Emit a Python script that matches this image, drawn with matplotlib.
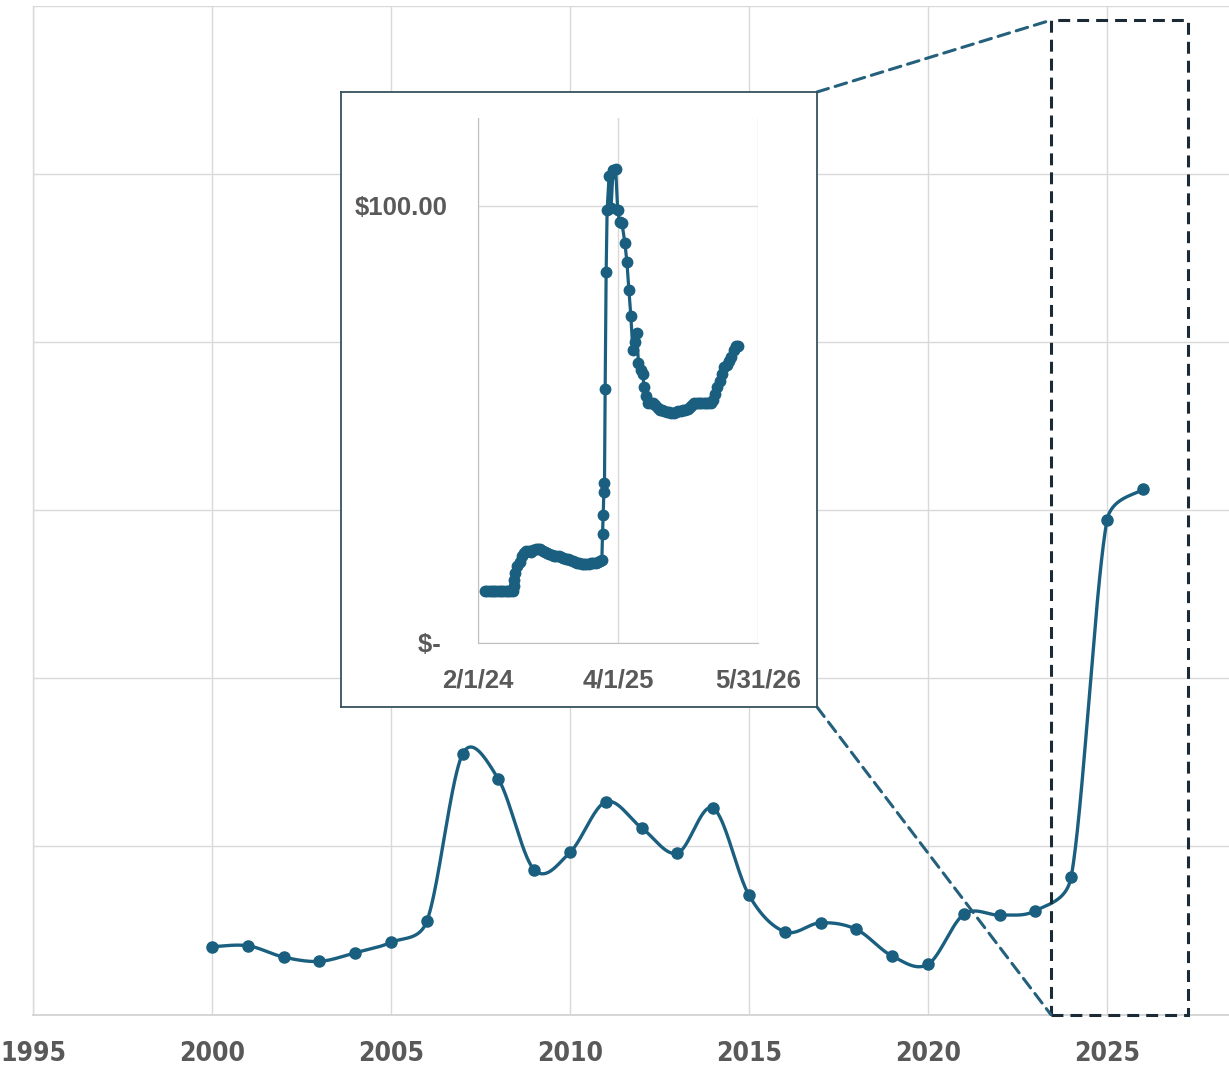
import numpy as np
import pandas as pd
import matplotlib
matplotlib.use("Agg")
import matplotlib.pyplot as plt
import matplotlib.dates as mdates
from matplotlib.patches import ConnectionPatch, Rectangle

# ---------------- data ----------------
years = list(range(2000, 2027))
annual_values = [8.06, 8.18, 6.83, 6.32, 7.34, 8.58, 11.08, 30.99, 27.99, 17.21,
                 19.28, 25.29, 22.20, 19.19, 24.54, 14.18, 9.84, 10.91, 10.12, 6.95,
                 5.97, 11.91, 11.83, 12.34, 16.38, 58.77, 62.45]
main_xticks = [1995, 2000, 2005, 2010, 2015, 2020, 2025]
main_yticks = [0, 20, 40, 60, 80, 100, 120]

inset_start = "2024-02-01"
inset_day_offsets = [21, 28, 35, 42, 49, 56, 63, 70, 77, 84, 91, 98, 105,
                     108, 110, 112, 119, 126, 133, 140, 147, 154, 161, 168, 175, 182, 189,
                     196, 203, 210, 217, 224, 231, 238, 245, 252, 259, 266, 273, 280, 287,
                     294, 301, 308, 315, 322, 329, 336, 343, 350, 357, 364, 371,
                     376, 378, 380, 382, 384, 386, 389, 392, 398, 404, 410, 418, 424,
                     430, 437, 446, 452, 458, 464, 470, 477, 482, 487, 494, 500, 504, 511,
                     517, 524, 531, 538, 545, 552, 559, 566, 573, 580, 587, 594, 601, 608,
                     615, 622, 629, 636, 643, 650, 657, 664, 671, 678, 685, 692, 699, 706,
                     713, 720, 727, 734, 741, 748, 755, 762, 769, 776, 783, 790]
inset_values = [11.8, 11.8, 11.8, 11.8, 11.8, 11.8, 11.8, 11.8, 11.8, 11.8, 11.8, 11.9, 11.9,
                13.0, 14.5, 16.0, 17.5, 18.6, 19.8, 20.6, 21.0, 21.1, 20.9, 21.2, 21.4, 21.5, 21.4,
                21.1, 20.8, 20.6, 20.4, 20.2, 20.0, 19.9, 19.8, 19.6, 19.4, 19.3, 19.1, 18.9, 18.7,
                18.5, 18.3, 18.2, 18.1, 18.0, 18.0, 18.1, 18.2, 18.3, 18.4, 18.5, 18.8,
                19.0, 25.0, 29.2, 34.5, 36.5, 58.0, 84.7, 99.0, 106.8, 99.5, 108.2, 108.4, 99.0,
                96.2, 96.0, 91.4, 87.1, 80.8, 74.7, 66.9, 68.8, 70.8, 64.0, 62.5, 61.6, 58.5, 56.5,
                54.9, 54.9, 54.9, 54.5, 53.8, 53.3, 53.2, 53.0, 52.8, 52.7, 52.6, 52.6, 52.7, 53.0,
                53.1, 53.2, 53.3, 53.5, 54.0, 54.5, 54.9, 54.9, 54.9, 54.9, 54.9, 54.9, 54.9, 54.9,
                55.5, 57.0, 58.5, 60.0, 61.5, 63.0, 63.5, 64.5, 65.4, 67.0, 68.0, 68.0]
inset_xtick_dates = ["2024-02-01", "2025-04-01", "2026-05-31"]
inset_xtick_labels = ["2/1/24", "4/1/25", "5/31/26"]
inset_yticks = [0, 100]
inset_ytick_labels = ["$- ", "$100.00"]

zoom_box_x = [2023.43, 2027.26]
zoom_box_y = [0, 118.25]

# ---------------- style ----------------
LINE = "#1A5F7F"
GRID = "#D9D9D9"
LABEL = "#595959"
W, H = 1229, 1070

fig = plt.figure(figsize=(W / 100, H / 100), dpi=100)
fig.patch.set_facecolor("white")


def fx(px):
    return px / W


def fy(py):
    return (H - py) / H


# main axes
ax = fig.add_axes([fx(33), fy(1014.5), fx(1229) - fx(33), fy(5.5) - fy(1014.5)])
ax.set_xlim(1995, 1995 + (1229 - 33) / 35.8)
ax.set_ylim(0, 120)
ax.set_xticks(main_xticks)
ax.set_yticks(main_yticks)
ax.set_yticklabels([])
ax.grid(True, color=GRID, lw=1.0, zorder=0)
ax.set_axisbelow(True)
for s in ["top", "right"]:
    ax.spines[s].set_visible(False)
ax.spines["left"].set_color(GRID)
ax.spines["bottom"].set_color("#D0D0D0")
ax.spines["left"].set_linewidth(1.0)
ax.spines["bottom"].set_linewidth(1.2)
ax.tick_params(length=0, axis="both")
ax.tick_params(axis="x", pad=19, labelsize=19, labelcolor=LABEL)
for lab in ax.get_xticklabels():
    lab.set_fontfamily(["DejaVu Sans"])
    lab.set_fontstretch("condensed")
    lab.set_fontweight("bold")

# smoothed line (Excel-like Bezier smoothing in display space:
# Catmull-Rom tangents, capped at half of the segment length)
xs = np.asarray(years, dtype=float)
ys = np.asarray(annual_values, dtype=float)
P = ax.transData.transform(np.column_stack([xs, ys]))
Pe = np.vstack([P[0], P, P[-1]])
curve = []
t = np.linspace(0, 1, 60)[:, None]
for i in range(len(P) - 1):
    p0, p1, p2, p3 = Pe[i], Pe[i + 1], Pe[i + 2], Pe[i + 3]
    d12 = np.hypot(*(p2 - p1))
    t0 = (p2 - p0) / 6.0
    t1 = (p3 - p1) / 6.0
    n0, n1 = np.hypot(*t0), np.hypot(*t1)
    if n0 > d12 / 2:
        t0 = t0 * (d12 / 2) / n0
    if n1 > d12 / 2:
        t1 = t1 * (d12 / 2) / n1
    c1 = p1 + t0
    c2 = p2 - t1
    seg = ((1 - t) ** 3) * p1 + 3 * ((1 - t) ** 2) * t * c1 + 3 * (1 - t) * t ** 2 * c2 + t ** 3 * p2
    curve.append(seg if i == 0 else seg[1:])
curve = ax.transData.inverted().transform(np.vstack(curve))
ax.plot(curve[:, 0], curve[:, 1], color=LINE, lw=2.4, zorder=3, solid_capstyle="round")
ax.plot(xs, ys, "o", color=LINE, ms=8, zorder=4)

# dashed zoom box
box = Rectangle((zoom_box_x[0], zoom_box_y[0]), zoom_box_x[1] - zoom_box_x[0],
                zoom_box_y[1] - zoom_box_y[0], fill=False, ec="#1B2A35", lw=2.2,
                linestyle=(0, (3.9, 2.3)), clip_on=False, zorder=5)
ax.add_patch(box)

# inset frame
frame = fig.add_axes([fx(341), fy(707), fx(817) - fx(341), fy(92) - fy(707)], zorder=3)
frame.set_facecolor("white")
frame.set_xticks([])
frame.set_yticks([])
for s in frame.spines.values():
    s.set_color("#36525F")
    s.set_linewidth(1.3)

# connectors
for fa, yb in [((1, 1), zoom_box_y[1]), ((1, 0), zoom_box_y[0])]:
    con = ConnectionPatch(xyA=fa, coordsA=frame.transAxes,
                          xyB=(zoom_box_x[0], yb), coordsB=ax.transData,
                          color="#24607C", lw=2.2, linestyle=(0, (3.9, 2.3)), zorder=2)
    fig.add_artist(con)

# inset axes
iax = fig.add_axes([fx(478), fy(643), fx(758) - fx(478), fy(118) - fy(643)], zorder=4)
iax.set_facecolor("none")
ix = mdates.date2num(pd.Timestamp(inset_start) + pd.to_timedelta(inset_day_offsets, unit="D"))
xt = mdates.date2num(pd.to_datetime(inset_xtick_dates))
iax.set_xlim(xt[0], xt[-1])
iax.set_ylim(0, 120)
iax.set_xticks(xt)
iax.set_xticklabels(inset_xtick_labels)
iax.set_yticks(inset_yticks)
iax.set_yticklabels(inset_ytick_labels)
iax.grid(True, color=GRID, lw=1.0)
iax.set_axisbelow(True)
for s in ["top", "right"]:
    iax.spines[s].set_visible(False)
iax.spines["left"].set_color("#BFBFBF")
iax.spines["bottom"].set_color("#BFBFBF")
iax.tick_params(length=0)
iax.tick_params(axis="x", pad=18, labelsize=18.5, labelcolor=LABEL)
iax.tick_params(axis="y", pad=22, labelsize=18.5, labelcolor=LABEL)
for lab in iax.get_xticklabels() + iax.get_yticklabels():
    lab.set_fontfamily(["Liberation Sans", "DejaVu Sans"])
    lab.set_fontweight("bold")
iax.plot(ix, inset_values, "-o", color=LINE, lw=2.3, ms=7.5, zorder=3, clip_on=False)

fig.savefig("out.png", dpi=100, facecolor="white")
